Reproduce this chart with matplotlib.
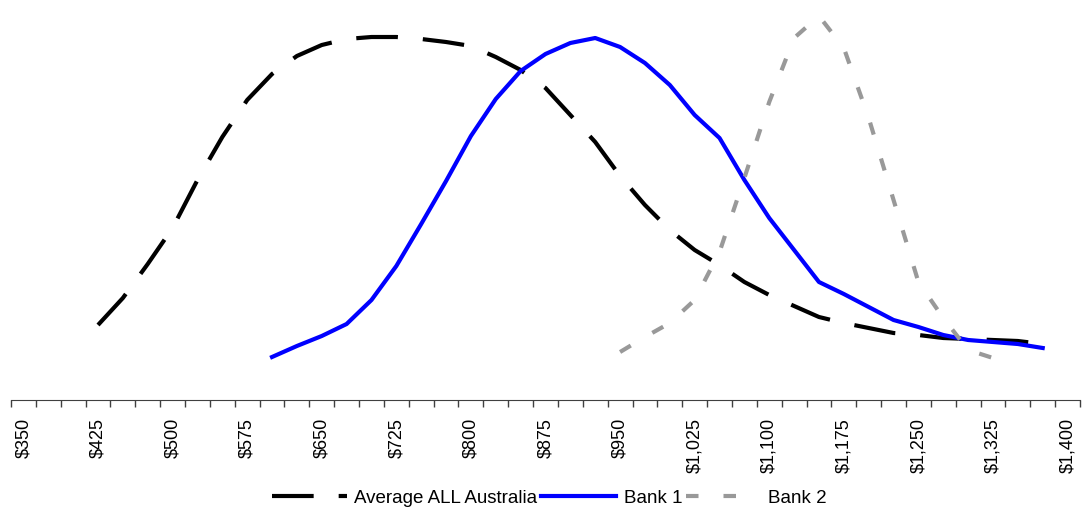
import numpy as np
import matplotlib.pyplot as plt

plt.rcParams['font.family'] = ['Liberation Sans Narrow', 'Liberation Sans', 'DejaVu Sans']

## Rent categories ($ per week, step 25)
cats = np.arange(350, 1425, 25)
tick_labels = ['$350', '$425', '$500', '$575', '$650', '$725', '$800', '$875',
               '$950', '$1,025', '$1,100', '$1,175', '$1,250', '$1,325', '$1,400']

## Series (share)
avg_x = np.arange(425, 1400, 25)
avg_y = [3.75, 5.1, 6.8, 8.6, 11.0, 13.15, 15.0, 16.3, 17.2, 17.75, 18.05, 18.15,
         18.15, 18.05, 17.9, 17.7, 17.15, 16.5, 15.6, 14.25, 12.9, 11.2, 9.75, 8.5,
         7.5, 6.75, 5.9, 5.25, 4.7, 4.15, 3.85, 3.6, 3.35, 3.25, 3.1, 3.05, 3.0,
         2.95, 2.8]

bank1_x = np.arange(600, 1400, 25)
bank1_y = [2.15, 2.7, 3.2, 3.8, 5.0, 6.7, 8.8, 10.95, 13.2, 15.05, 16.45, 17.3,
           17.85, 18.1, 17.65, 16.85, 15.75, 14.25, 13.1, 11.0, 9.1, 7.5, 5.9, 5.3,
           4.65, 4.0, 3.65, 3.25, 3.0, 2.9, 2.8, 2.6]

bank2_x = np.arange(950, 1350, 25)
bank2_y = [2.4, 3.15, 3.85, 5.0, 7.4, 11.1, 14.9, 18.1, 19.2, 17.6, 14.1, 10.0,
           5.9, 4.1, 2.5, 2.1]

fig = plt.figure(figsize=(10.88, 5.14), dpi=100)
ax = fig.add_axes([11/1088, 114/514, 1069/1088, 390/514])

ax.plot(avg_x, avg_y, color='black', lw=3, linestyle=(0, (10, 6)),
        label='Average ALL Australia')
ax.plot(bank1_x, bank1_y, color='#0000ff', lw=3, label='Bank 1')
ax.plot(bank2_x, bank2_y, color='#999999', lw=3, linestyle=(0, (3, 6)),
        label='Bank 2')

ax.set_xlim(cats[0] - 12.5, cats[-1] + 12.5)
ax.set_ylim(0, 19.5)

## category axis: ticks between categories, labels every third category
ax.set_xticks(np.arange(337.5, 1425, 25), minor=True)
ax.set_xticks(cats[::3])
ax.set_xticklabels(tick_labels, rotation=90, fontsize=13)
ax.tick_params(axis='x', which='major', length=0, pad=13)
ax.tick_params(axis='x', which='minor', length=5, direction='out',
               color='#404040', width=1)
ax.set_yticks([])
for s in ['top', 'right', 'left']:
    ax.spines[s].set_visible(False)
ax.spines['bottom'].set_color('#404040')

fig.legend(loc='center', bbox_to_anchor=(0.505, 0.031), ncol=3, frameon=False,
           fontsize=13.5, handlelength=4.0, handletextpad=0.4, columnspacing=0.2)

plt.savefig('out.png', dpi=100)
